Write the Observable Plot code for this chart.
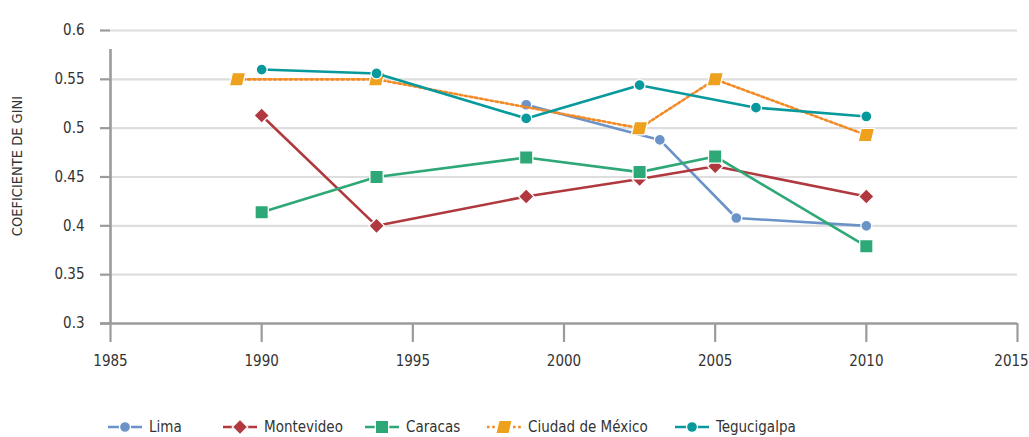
<!DOCTYPE html>
<html>
<head>
<meta charset="utf-8">
<script src="https://cdn.jsdelivr.net/npm/d3@7"></script>
<script src="https://cdn.jsdelivr.net/npm/@observablehq/plot@0.6"></script>
<style>
  html, body { margin: 0; padding: 0; background: #fff; }
  #wrap { position: relative; width: 1029px; height: 437px; font-family: "DejaVu Sans Condensed", "Liberation Sans Narrow", sans-serif; color: #333; }
  #legend { position: absolute; left: 0; top: 0; width: 1029px; height: 437px; pointer-events: none; }
  .item { position: absolute; top: 416px; height: 22px; display: flex; align-items: center; font-size: 15px; white-space: nowrap; }
  .item svg { margin-right: 7px; }
</style>
</head>
<body>
<div id="wrap"><div id="chart"></div><div id="legend"></div></div>
<script>
// ---- data ----
const seriesNames = ["Lima", "Montevideo", "Caracas", "Ciudad de México", "Tegucigalpa"];

const limaYears = [1998.75, 2003.17, 2005.7, 2010];
const limaGini  = [0.524, 0.488, 0.408, 0.400];

const montevideoYears = [1990, 1993.8, 1998.75, 2002.5, 2005, 2010];
const montevideoGini  = [0.513, 0.400, 0.430, 0.448, 0.461, 0.430];

const caracasYears = [1990, 1993.8, 1998.75, 2002.5, 2005, 2010];
const caracasGini  = [0.414, 0.450, 0.470, 0.455, 0.471, 0.379];

const cdmxYears = [1989.2, 1993.8, 2002.5, 2005, 2010];
const cdmxGini  = [0.550, 0.550, 0.500, 0.550, 0.493];

const tegucigalpaYears = [1990, 1993.8, 1998.75, 2002.5, 2006.35, 2010];
const tegucigalpaGini  = [0.560, 0.556, 0.510, 0.544, 0.521, 0.512];

const xTicks = [1985, 1990, 1995, 2000, 2005, 2010, 2015];
const yTicks = [0.3, 0.35, 0.4, 0.45, 0.5, 0.55, 0.6];
const yTitle = "COEFICIENTE DE GINI";

// ---- styles ----
const FONT = '"DejaVu Sans Condensed", "Liberation Sans Narrow", sans-serif';
const skewSquare = {
  draw(ctx, size) {
    const w = Math.sqrt(size), h = w / 2, s = w * 0.12;
    ctx.moveTo(-h + s, -h); ctx.lineTo(h + s, -h); ctx.lineTo(h - s, h); ctx.lineTo(-h - s, h); ctx.closePath();
  }
};
const styles = {
  "Lima":             { line: "#6b93c8", fill: "#6b93c8", symbol: "circle",   r: 5.5, dash: null },
  "Montevideo":       { line: "#b0393f", fill: "#b0393f", symbol: "diamond2", r: 7,   dash: null },
  "Caracas":          { line: "#2ea876", fill: "#2ea876", symbol: "square",   r: 7.5, dash: null },
  "Ciudad de México": { line: "#f28a26", fill: "#eea11c", symbol: skewSquare, r: 7.5, dash: "2.6,2.6" },
  "Tegucigalpa":      { line: "#07999b", fill: "#07999b", symbol: "circle",   r: 5.5, dash: null }
};

const seriesData = {
  "Lima": [limaYears, limaGini],
  "Montevideo": [montevideoYears, montevideoGini],
  "Caracas": [caracasYears, caracasGini],
  "Ciudad de México": [cdmxYears, cdmxGini],
  "Tegucigalpa": [tegucigalpaYears, tegucigalpaGini]
};
const table = name => seriesData[name][0].map((year, i) => ({ year, gini: seriesData[name][1][i] }));

const axisGrey = "#9b9b9b";
const seriesMarks = seriesNames.flatMap(name => {
  const s = styles[name];
  const d = table(name);
  return [
    Plot.line(d, { x: "year", y: "gini", stroke: s.line, strokeWidth: 2.6, strokeDasharray: s.dash ?? undefined }),
    Plot.dot(d, { x: "year", y: "gini", symbol: s.symbol, r: s.r, fill: s.fill, stroke: "white", strokeWidth: 1.3 })
  ];
});

const lastX = xTicks[xTicks.length - 1];
const chart = Plot.plot({
  width: 1029,
  height: 390,
  marginLeft: 110,
  marginRight: 12,
  marginTop: 30,
  marginBottom: 67,
  x: { domain: [1985, 2015] },
  y: { domain: [0.3, 0.6] },
  style: { fontFamily: FONT, fontSize: "15px", color: "#333", background: "white", overflow: "visible" },
  marks: [
    Plot.ruleY(yTicks.filter(v => v > 0.3), { stroke: "#dedede", strokeWidth: 2.2 }),
    Plot.axisY({ ticks: yTicks, tickSize: 10, tickPadding: 16, stroke: axisGrey, strokeWidth: 2.2, tickFormat: d => String(d), label: null }),
    Plot.axisX({ ticks: xTicks, tickSize: 19, tickPadding: 13, stroke: axisGrey, strokeWidth: 2.2, tickFormat: d => d === lastX ? "" : String(d), label: null }),
    Plot.axisX({ ticks: [lastX], tickSize: 0, tickPadding: 32, tickFormat: d => String(d), dx: -6, label: null }),
    Plot.ruleX([1985], { y1: 0.3, y2: 0.6, insetBottom: -19, stroke: axisGrey, strokeWidth: 2.6 }),
    Plot.ruleY([0.3], { x1: 1985, x2: 2015, insetLeft: -10, stroke: axisGrey, strokeWidth: 2.6 }),
    Plot.text([yTitle], { frameAnchor: "left", textAnchor: "middle", rotate: -90, dx: -93, dy: -11, fontSize: 14.5, fill: "#333" }),
    ...seriesMarks
  ]
});
document.getElementById("chart").appendChild(chart);

// ---- legend ----
const legendLeft = { "Lima": 108, "Montevideo": 223, "Caracas": 365, "Ciudad de México": 487, "Tegucigalpa": 675 };
const legend = document.getElementById("legend");
for (const name of seriesNames) {
  const s = styles[name];
  const item = document.createElement("div");
  item.className = "item";
  item.style.left = legendLeft[name] + "px";
  const svg = d3.create("svg").attr("width", 34).attr("height", 20);
  svg.append("line").attr("x1", 0).attr("x2", 34).attr("y1", 10).attr("y2", 10)
    .attr("stroke", s.line).attr("stroke-width", 2.6).attr("stroke-dasharray", s.dash);
  const sym = typeof s.symbol === "string"
    ? ({ circle: d3.symbolCircle, diamond2: d3.symbolDiamond2, square: d3.symbolSquare })[s.symbol]
    : s.symbol;
  svg.append("path").attr("transform", "translate(17,10)")
    .attr("d", d3.symbol(sym, Math.PI * s.r * s.r)())
    .attr("fill", s.fill).attr("stroke", "white").attr("stroke-width", 1.3);
  item.appendChild(svg.node());
  const span = document.createElement("span");
  span.textContent = name;
  item.appendChild(span);
  legend.appendChild(item);
}
</script>
</body>
</html>
